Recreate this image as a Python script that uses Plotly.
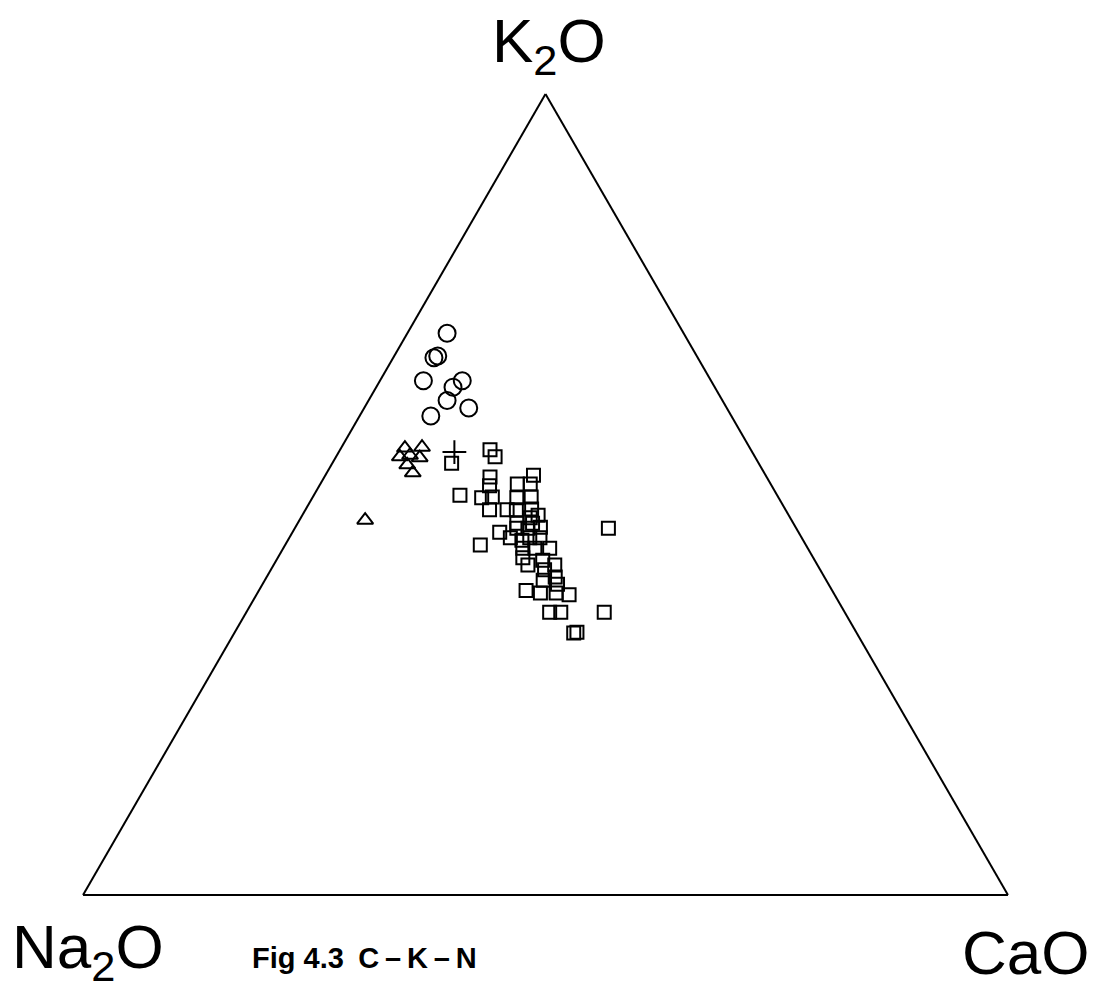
import plotly.graph_objects as go

# Ternary compositions (percent): K2O (a), Na2O (b), CaO (c)
circle_k2o = [70.2, 67.0, 67.3, 64.2, 64.2, 63.4, 61.8, 60.8, 59.8]
circle_na2o = [25.6, 28.5, 28.0, 31.1, 26.9, 28.3, 29.8, 27.9, 32.5]
circle_cao = [4.3, 4.4, 4.7, 4.7, 8.9, 8.3, 8.5, 11.3, 7.7]

tri_k2o = [55.8, 55.9, 54.7, 54.9, 54.6, 53.7, 52.7, 46.8]
tri_na2o = [37.3, 35.4, 38.4, 37.2, 36.3, 38.1, 38.0, 46.1]
tri_cao = [6.9, 8.7, 6.9, 7.9, 9.1, 8.2, 9.3, 7.1]

plus_k2o = [55.3]
plus_na2o = [32.2]
plus_cao = [12.5]

sq_k2o = [53.9, 55.6, 54.7, 52.2, 51.1, 49.9, 49.6, 49.7, 48.1, 48.1, 51.3, 52.4, 51.3,
          49.6, 49.7, 48.1, 48.2, 47.4, 47.1, 45.3, 45.8, 44.6, 45.8, 45.9, 43.7, 44.3,
          44.6, 44.6, 43.3, 43.3, 43.3, 42.1, 41.2, 41.8, 41.2, 40.6, 39.7, 39.3, 38.8,
          38.0, 37.7, 37.7, 37.5, 35.3, 35.3, 32.7, 32.8, 45.8, 35.3, 46.4, 46.4]
sq_na2o = [33.2, 28.2, 28.1, 29.9, 30.5, 34.3, 32.1, 30.9, 32.0, 30.1, 27.4, 25.1, 26.0,
           28.3, 26.7, 29.1, 27.4, 27.1, 28.1, 32.3, 30.2, 31.5, 29.0, 27.6, 35.2, 30.4,
           29.4, 28.3, 27.9, 30.8, 29.5, 31.4, 31.3, 29.4, 28.4, 29.8, 29.1, 30.6, 29.3,
           33.1, 31.7, 30.0, 28.7, 31.9, 30.7, 30.6, 30.2, 20.3, 26.0, 29.9, 28.2]
sq_cao = [12.9, 16.2, 17.2, 17.9, 18.4, 15.8, 18.3, 19.4, 19.9, 21.8, 21.3, 22.5, 22.7,
          22.1, 23.6, 22.8, 24.4, 25.5, 24.8, 22.4, 24.0, 23.9, 25.2, 26.5, 21.1, 25.3,
          26.0, 27.1, 28.8, 25.9, 27.2, 26.5, 27.5, 28.8, 30.4, 29.6, 31.2, 30.1, 31.9,
          28.9, 30.6, 32.3, 33.8, 32.8, 34.0, 36.7, 37.0, 33.9, 38.7, 23.7, 25.4]

W, H = 1098, 989
line = dict(color="black", width=2)

fig = go.Figure()
fig.add_trace(go.Scatterternary(a=circle_k2o, b=circle_na2o, c=circle_cao, mode="markers",
                                marker=dict(symbol="circle-open", size=17, line=line, color="black")))
fig.add_trace(go.Scatterternary(a=tri_k2o, b=tri_na2o, c=tri_cao, mode="markers",
                                marker=dict(symbol="triangle-up-open", size=14, line=line, color="black")))
fig.add_trace(go.Scatterternary(a=sq_k2o, b=sq_na2o, c=sq_cao, mode="markers",
                                marker=dict(symbol="square-open", size=13, line=line, color="black")))
fig.add_trace(go.Scatterternary(a=plus_k2o, b=plus_na2o, c=plus_cao, mode="markers",
                                marker=dict(symbol="cross-thin-open", size=17, line=line, color="black")))

axis = dict(showticklabels=False, ticks="", showgrid=False, linecolor="black", linewidth=2,
            title=dict(text=""))
fig.update_layout(
    width=W, height=H,
    margin=dict(l=0, r=0, t=0, b=0),
    paper_bgcolor="white",
    showlegend=False,
    ternary=dict(
        sum=100,
        bgcolor="white",
        domain=dict(x=[83 / W, 1008 / W], y=[(H - 895) / H, (H - 94) / H]),
        aaxis=axis, baxis=axis, caxis=axis,
    ),
)

lab_font = dict(family="Liberation Sans", size=62, color="black")
fig.add_annotation(text="K<sub>2</sub>O", x=549 / W, y=1 - 4 / H, xref="paper", yref="paper",
                   xanchor="center", yanchor="top", showarrow=False, font=lab_font)
fig.add_annotation(text="Na<sub>2</sub>O", x=88 / W, y=1 - 910 / H, xref="paper", yref="paper",
                   xanchor="center", yanchor="top", showarrow=False, font=lab_font)
fig.add_annotation(text="CaO", x=1025 / W, y=1 - 916 / H, xref="paper", yref="paper",
                   xanchor="center", yanchor="top", showarrow=False, font=lab_font)
fig.add_annotation(text="Fig 4.3\u2002C\u2009\u2013\u2009K\u2009\u2013\u2009N", x=364 / W, y=1 - 958 / H,
                   xref="paper", yref="paper", xanchor="center", yanchor="middle", showarrow=False,
                   font=dict(family="Liberation Sans", size=29, color="black", weight="bold"))

fig.write_html("out.html")
